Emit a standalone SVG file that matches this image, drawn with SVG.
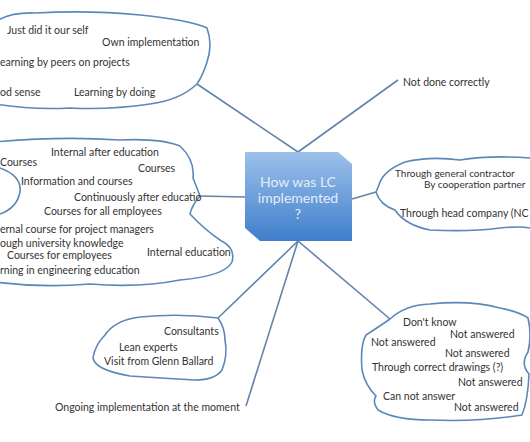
<svg xmlns="http://www.w3.org/2000/svg" width="530" height="442" viewBox="0 0 530 442">
<defs>
<linearGradient id="g" x1="0" y1="0" x2="0" y2="1">
<stop offset="0" stop-color="#9dc1ea"/>
<stop offset="1" stop-color="#3f7ecb"/>
</linearGradient>
<style>
.cloud{fill:none;stroke:#5b88b8;stroke-width:1.6;stroke-linejoin:round}
.t{font-family:Lato,"Liberation Sans",sans-serif;font-size:10.5px;fill:#333}
.s{font-size:10px}
.c{stroke:#6383a8;stroke-width:1.6;fill:none}
.nt{font-family:Lato,"Liberation Sans",sans-serif;font-size:14px;fill:#e4edf8;text-anchor:middle}
</style>
</defs>
<rect width="530" height="442" fill="#fff"/>
<g id="connectors">
<line class="c" x1="298" y1="152" x2="197" y2="84"/>
<line class="c" x1="298" y1="152" x2="398" y2="80"/>
<line class="c" x1="245" y1="197" x2="200" y2="196"/>
<line class="c" x1="352" y1="199" x2="376" y2="192"/>
<line class="c" x1="298" y1="241" x2="218" y2="318"/>
<line class="c" x1="298" y1="241" x2="246" y2="406"/>
<line class="c" x1="298" y1="241" x2="390" y2="319"/>
</g>
<g id="center">
<polygon points="245,152 338,152 352,164 352,241 260,241 245,228" fill="url(#g)"/>
<text class="nt" x="298" y="187">How was LC</text>
<text class="nt" x="298" y="203">implemented</text>
<text class="nt" x="298" y="219">?</text>
</g>
<g id="self">
<path class="cloud" d="M -5,22 Q 10,12 35,13 Q 90,10 140,15 Q 190,20 207,28 Q 213,45 207,62 Q 203,75 197,84 Q 180,100 150,104 Q 110,110 70,108 Q 30,110 -5,104"/>
<text class="t" x="7" y="34">Just did it our self</text>
<text class="t" x="102" y="46">Own implementation</text>
<text class="t" x="0" y="66">earning by peers on projects</text>
<text class="t" x="0" y="96">od sense</text>
<text class="t" x="74" y="96">Learning by doing</text>
</g>
<g id="education">
<path class="cloud" d="M -5,142 Q 60,136 120,140 Q 160,138 180,146 Q 195,160 193,178 Q 197,188 200,196 Q 192,205 190,214 Q 205,230 220,240 Q 236,248 232,262 Q 225,276 180,280 Q 140,288 90,284 Q 40,288 -5,282"/>
<path class="cloud" d="M 0,168 Q 22,176 20,192 Q 17,208 0,214"/>
<text class="t" x="0" y="166">Courses</text>
<text class="t" x="51" y="156">Internal after education</text>
<text class="t" x="138" y="172">Courses</text>
<text class="t" x="21" y="185">Information and courses</text>
<text class="t" x="74" y="201">Continuously after educatio</text>
<text class="t" x="44" y="215">Courses for all employees</text>
<text class="t" x="0" y="233">ernal course for project managers</text>
<text class="t" x="0" y="247">ough university knowledge</text>
<text class="t" x="7" y="259">Courses for employees</text>
<text class="t" x="147" y="256">Internal education</text>
<text class="t" x="0" y="274">rning in engineering education</text>
</g>
<g id="notdone">
<text class="t" x="403" y="86">Not done correctly</text>
</g>
<g id="contractor">
<path class="cloud" d="M 530,158 Q 490,155 460,160 Q 430,156 405,162 Q 385,170 380,182 Q 378,188 376,192 Q 380,205 395,210 Q 405,225 430,230 Q 470,232 500,228 Q 520,226 530,228"/>
<text class="t s" x="395" y="177">Through general contractor</text>
<text class="t s" x="424" y="188">By cooperation partner</text>
<text class="t" x="400" y="217">Through head company (NC</text>
</g>
<g id="answers">
<path class="cloud" d="M 390,319 Q 405,305 430,304 Q 470,300 500,308 Q 520,312 528,318 Q 532,335 528,352 Q 520,364 529,374 Q 528,400 522,415 Q 480,422 430,420 Q 395,420 378,410 Q 372,402 376,396 Q 365,385 362,370 Q 360,345 366,335 Q 380,326 390,319 Z"/>
<text class="t" x="403" y="326">Don't know</text>
<text class="t" x="450" y="338">Not answered</text>
<text class="t" x="371" y="346">Not answered</text>
<text class="t" x="445" y="357">Not answered</text>
<text class="t" x="372" y="371">Through correct drawings (?)</text>
<text class="t" x="458" y="386">Not answered</text>
<text class="t" x="383" y="400">Can not answer</text>
<text class="t" x="454" y="411">Not answered</text>
</g>
<g id="consultants">
<path class="cloud" d="M 218,318 Q 225,328 225,340 Q 228,355 222,370 Q 215,380 195,380 Q 160,378 130,376 Q 95,370 93,358 Q 95,345 105,335 Q 115,320 140,317 Q 180,313 218,318 Z"/>
<text class="t" x="164" y="335">Consultants</text>
<text class="t" x="119" y="351">Lean experts</text>
<text class="t" x="104" y="365">Visit from Glenn Ballard</text>
</g>
<g id="ongoing">
<text class="t" x="55" y="411">Ongoing implementation at the moment</text>
</g>
</svg>
